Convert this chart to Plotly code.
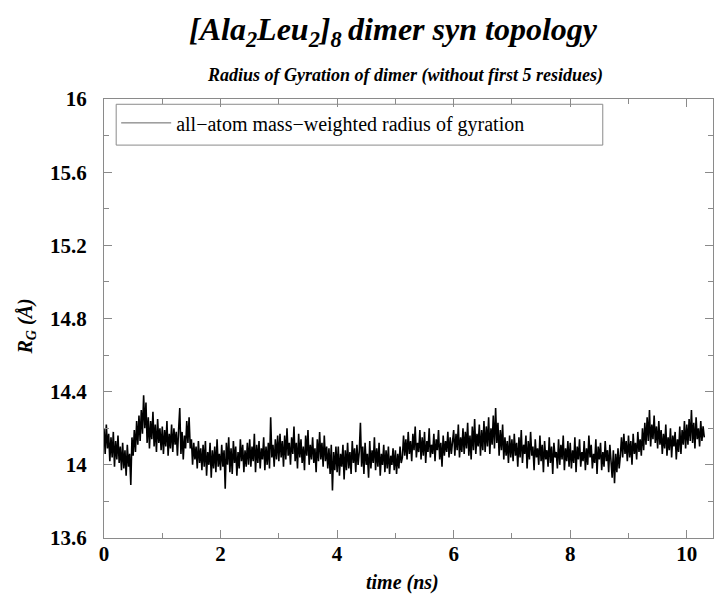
import numpy as np
import plotly.graph_objects as go

# Radius of gyration (Å), sampled every 0.02 ns
SAMPLE_INTERVAL_NS = 0.02

rg_0_1ns = [
    14.20, 14.06, 14.22, 14.09, 14.17,
    14.02, 14.15, 14.04, 14.18, 13.99, 14.13, 14.03, 14.16, 14.01,
    14.10, 13.97, 14.12, 13.98, 14.08, 13.94, 14.11, 13.99, 14.06, 13.89,
    14.15, 14.05, 14.19, 14.07,
    14.24, 14.11, 14.27, 14.13,
    14.30, 14.17, 14.38, 14.20, 14.34,
    14.12, 14.26, 14.09, 14.24, 14.14, 14.29, 14.10, 14.22, 14.07, 14.25, 14.12, 14.20, 14.08,
]
rg_1_2ns = [
    14.21, 14.06, 14.19, 14.10, 14.24, 14.05, 14.17, 14.09, 14.22, 14.07, 14.20, 14.11, 14.18,
    14.05, 14.19, 14.31, 14.06, 14.18, 14.03, 14.16, 14.09,
    14.24, 14.12, 14.26,
    14.09, 14.14, 14.00, 14.12, 14.03, 14.10, 13.98, 14.13, 14.01,
    14.09, 13.97, 14.11, 13.99, 14.13, 13.94, 14.07, 14.00, 14.12, 13.93, 14.08, 13.98, 14.10,
    13.96, 14.14, 13.99, 14.06,
]
rg_2_3ns = [
    13.97, 14.11, 13.99, 14.08, 13.87, 14.12, 14.00, 14.15, 13.96, 14.09,
    13.95, 14.13, 14.01, 14.10, 13.94, 14.07, 13.98, 14.14, 14.02, 14.11,
    13.96, 14.08, 13.99, 14.12, 14.00,
    14.14, 13.99, 14.10, 14.02, 14.17, 13.96, 14.11, 14.01, 14.13, 13.98,
    14.09, 14.03, 14.15, 13.97, 14.10, 14.00, 14.12, 13.98, 14.26, 14.04,
    14.11, 13.99,
    14.14, 14.03, 14.16,
]
rg_3_4ns = [
    14.02, 14.17, 14.04, 14.13, 13.99, 14.16, 14.03, 14.20, 14.05, 14.12,
    14.00, 14.15, 14.06, 14.21, 14.02, 14.12, 13.98, 14.17, 14.04, 14.14,
    14.01, 14.10, 13.97, 14.16, 14.05, 14.19, 14.00, 14.11, 14.03, 14.15,
    14.01, 14.09, 13.96, 14.14, 14.02, 14.18, 14.03, 14.12, 13.99, 14.16,
    14.02, 14.10, 13.98,
    14.09, 13.95, 14.11, 13.86, 14.07, 13.97, 14.10,
]
rg_4_5ns = [
    13.96, 14.10, 13.94, 14.06, 13.99, 14.11, 13.92, 14.08, 13.97, 14.12,
    13.98, 14.07, 13.95, 14.13, 14.01, 14.09, 13.96, 14.11, 14.00, 14.07,
    14.23, 13.99, 14.10, 13.95, 14.12, 14.00, 14.06, 13.93, 14.13, 13.98,
    14.08, 14.01, 14.15, 13.97, 14.09, 13.99, 14.12, 13.94, 14.06, 14.00,
    14.11, 13.96, 14.08, 13.98, 14.10, 13.95, 14.05, 14.00, 14.09, 13.97,
]
rg_5_6ns = [
    14.08, 13.95, 14.06, 13.98, 14.10, 14.01, 14.04,
    14.16, 14.05, 14.14, 14.03, 14.18, 14.06, 14.13, 14.02, 14.17, 14.08,
    14.21, 14.04, 14.12, 14.07, 14.19, 14.03, 14.15, 14.05, 14.18, 14.01,
    14.13, 14.07, 14.20, 14.04, 14.11, 14.06, 14.17, 14.02, 14.14, 14.08,
    14.19, 14.03, 14.12, 13.99, 14.16, 14.05, 14.13, 14.07, 14.18,
    14.04, 14.15, 14.06, 14.12,
]
rg_6_7ns = [
    14.19, 14.05, 14.17, 14.08, 14.22, 14.04, 14.15, 14.07, 14.20, 14.06,
    14.18, 14.09, 14.23, 14.05, 14.16, 14.03, 14.21, 14.08, 14.25, 14.06,
    14.17, 14.10, 14.22, 14.05, 14.19,
    14.08, 14.24, 14.07, 14.21, 14.10, 14.26, 14.06, 14.20, 14.11, 14.27,
    14.09, 14.31, 14.12, 14.23, 14.05, 14.19, 14.08, 14.22,
    14.03, 14.15, 14.05, 14.13, 14.01, 14.16, 14.04,
]
rg_7_8ns = [
    14.14, 14.02, 14.17, 14.05, 14.12, 13.99, 14.15, 14.04, 14.19, 14.01,
    14.11, 14.06, 14.16, 13.98, 14.13, 14.03, 14.18, 14.05, 14.10, 13.97,
    14.14, 14.04, 14.09, 14.00, 14.16, 14.02, 14.11, 13.96, 14.13, 14.03,
    14.08, 13.99, 14.15, 14.01, 14.10, 13.95, 14.12, 14.04, 14.07, 13.98,
    14.14, 14.00, 14.11, 14.03, 14.16, 13.97, 14.09, 14.02, 14.13, 13.99,
]
rg_8_9ns = [
    14.12, 13.98, 14.08, 14.01, 14.15, 13.96, 14.10, 14.03, 14.14, 13.99,
    14.07, 14.02, 14.13, 13.97, 14.09, 14.00, 14.16, 14.04, 14.11, 13.98,
    14.06, 14.01, 14.14, 13.95, 14.10, 14.03, 14.12, 13.97, 14.07, 13.99,
    14.13, 14.02, 14.08, 13.96, 14.11,
    14.02, 13.93, 14.08, 13.90, 14.06, 13.96, 14.09, 13.98, 14.05,
    14.15, 14.04, 14.17, 14.06, 14.13, 14.02,
]
rg_9_10ns = [
    14.16, 14.04, 14.13, 14.00, 14.17, 14.06, 14.12, 14.03, 14.18, 14.07,
    14.14, 14.05, 14.20, 14.08,
    14.23, 14.11, 14.26, 14.13, 14.30, 14.10, 14.22, 14.14, 14.27, 14.12,
    14.21, 14.09, 14.24, 14.11,
    14.19, 14.06, 14.17, 14.09, 14.22, 14.05, 14.15, 14.08, 14.20, 14.04,
    14.16, 14.10, 14.18, 14.03, 14.14, 14.07, 14.21, 14.06, 14.19, 14.11,
    14.24, 14.09,
]
rg_10_end = [
    14.22, 14.11, 14.25, 14.13, 14.30, 14.12, 14.23, 14.09, 14.26, 14.14,
    14.20, 14.10, 14.24, 14.13, 14.21, 14.15,
]

rg_values = (rg_0_1ns + rg_1_2ns + rg_2_3ns + rg_3_4ns + rg_4_5ns + rg_5_6ns
             + rg_6_7ns + rg_7_8ns + rg_8_9ns + rg_9_10ns + rg_10_end)
time_ns = np.arange(len(rg_values)) * SAMPLE_INTERVAL_NS

SERIES_NAME = "all\u2212atom mass\u2212weighted radius of gyration"
TITLE = "[Ala<sub>2</sub>Leu<sub>2</sub>]<sub>8</sub>\u2009dimer syn topology"
SUBTITLE = "Radius of Gyration of dimer (without first 5 residues)"
X_TITLE = "time (ns)"
Y_TITLE = "R<sub>G</sub> (\u00c5)"

SERIF = "Liberation Serif, Times New Roman, serif"
AXIS_GREY = "#8a8a8a"

fig = go.Figure()
# the time series itself, drawn heavy so the fast fluctuations read as a band
fig.add_trace(go.Scatter(
    x=time_ns, y=rg_values, mode="lines", name=SERIES_NAME,
    line=dict(color="black", width=1.6),
    legendgroup="rg", showlegend=False,
))
# legend key drawn with a hairline
fig.add_trace(go.Scatter(
    x=[None], y=[None], mode="lines", name=SERIES_NAME,
    line=dict(color="#555555", width=0.9),
    legendgroup="rg", showlegend=True, hoverinfo="skip",
))

axis_common = dict(
    showline=True, linecolor=AXIS_GREY, linewidth=1, mirror="ticks",
    ticks="inside", tickcolor=AXIS_GREY, tickwidth=1, ticklen=8,
    showgrid=False, zeroline=False,
    tickfont=dict(family=SERIF, size=21, color="black", weight="bold"),
)

fig.update_layout(
    width=715, height=599,
    margin=dict(l=104, r=2, t=99, b=61),
    paper_bgcolor="white", plot_bgcolor="white",
    xaxis=dict(
        range=[0, 10.45], tick0=0, dtick=2,
        minor=dict(dtick=1, ticks="inside", ticklen=5, tickcolor=AXIS_GREY),
        ticklabelstandoff=-3,
        **axis_common,
    ),
    yaxis=dict(
        range=[13.6, 16], tick0=13.6, dtick=0.4,
        minor=dict(dtick=0.2, ticks="inside", ticklen=5, tickcolor=AXIS_GREY),
        ticklabelstandoff=12,
        **axis_common,
    ),
    legend=dict(
        x=0.02, y=0.99, xanchor="left", yanchor="top",
        bgcolor="rgba(0,0,0,0)", borderwidth=0,
        font=dict(family=SERIF, size=20, color="black"),
        itemwidth=50,
    ),
    shapes=[dict(
        type="rect", xref="paper", yref="paper",
        x0=0.02, x1=0.819, y0=0.895, y1=0.988,
        line=dict(color=AXIS_GREY, width=1), fillcolor="rgba(0,0,0,0)",
        layer="below",
    )],
    annotations=[
        dict(text=TITLE, xref="paper", yref="paper", x=0.475, y=1.0,
             yshift=68, showarrow=False, xanchor="center", yanchor="middle",
             font=dict(family=SERIF, size=32, color="black", weight="bold", style="italic")),
        dict(text=SUBTITLE, xref="paper", yref="paper", x=0.495, y=1.0,
             yshift=24, showarrow=False, xanchor="center", yanchor="middle",
             font=dict(family=SERIF, size=18, color="black", weight="bold", style="italic")),
        dict(text=X_TITLE, xref="paper", yref="paper", x=0.49, y=0.0,
             yshift=-44, showarrow=False, xanchor="center", yanchor="middle",
             font=dict(family=SERIF, size=20, color="black", weight="bold", style="italic")),
        dict(text=Y_TITLE, xref="paper", yref="paper", x=0.0, y=0.5,
             xshift=-78, yshift=-8, showarrow=False, textangle=-90,
             xanchor="center", yanchor="middle",
             font=dict(family=SERIF, size=20, color="black", weight="bold", style="italic")),
    ],
)

fig.write_html("out.html")
